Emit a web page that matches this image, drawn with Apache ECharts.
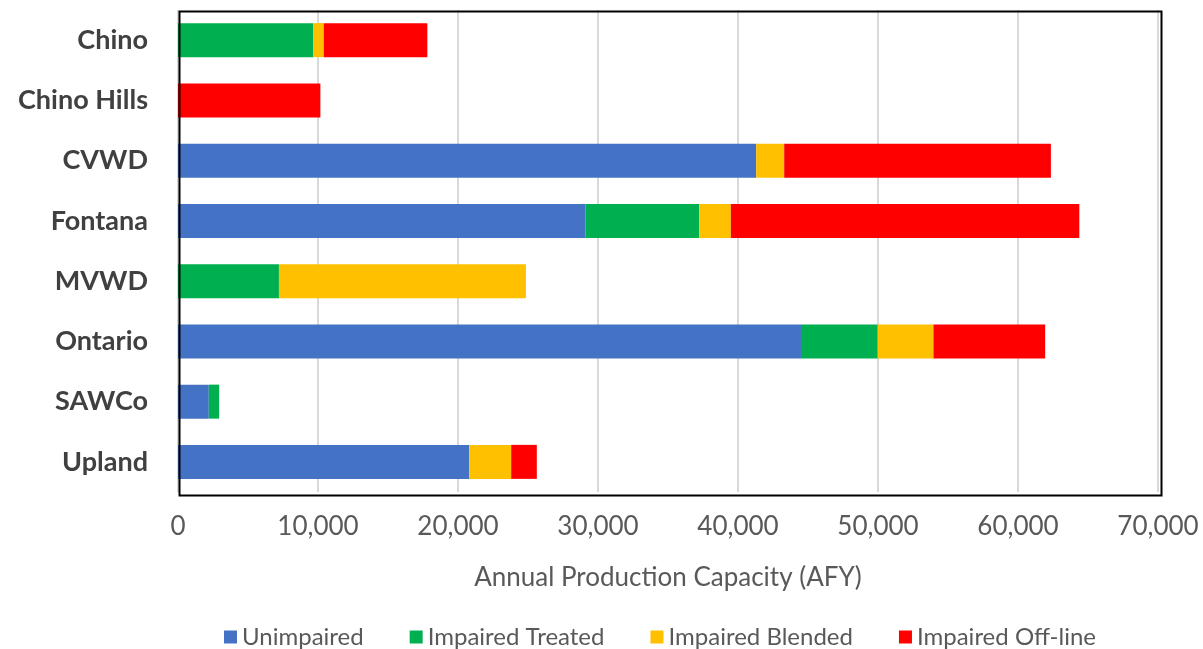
<!DOCTYPE html>
<html>
<head>
<meta charset="utf-8">
<script src="https://cdn.jsdelivr.net/npm/echarts@6/dist/echarts.min.js"></script>
<style>
  html, body { margin: 0; padding: 0; background: #fff; }
  #chart { width: 1203px; height: 649px; }
</style>
</head>
<body>
<div id="chart"></div>
<script>
// agencies, top to bottom
const agencies = ['Chino', 'Chino Hills', 'CVWD', 'Fontana', 'MVWD', 'Ontario', 'SAWCo', 'Upland'];

// AFY per category
const unimpaired      = [0,    0,     41300, 29100, 0,     44500, 2200, 20800];
const impairedTreated = [9670, 0,     0,     8130,  7210,  5480,  740,  0];
const impairedBlended = [740,  0,     2000,  2260,  17640, 3980,  0,    3000];
const impairedOffline = [7400, 10170, 19050, 24890, 0,     7980,  0,    1830];

const xTicks = {min: 0, max: 70000, interval: 10000};

const font = 'Lato, "Open Sans", sans-serif';

// plot box, in px
const box = {left: 178, top: 10, width: 980, height: 482};

const mkSeries = (name, data, color) => ({
    name,
    type: 'bar',
    stack: 'total',
    data,
    barWidth: 34,
    itemStyle: {color},
    emphasis: {disabled: true}
});

const chart = echarts.init(document.getElementById('chart'));

chart.setOption({
    animation: false,
    grid: {
        left: box.left, top: box.top, width: box.width, height: box.height,
        containLabel: false
    },
    graphic: [{
        type: 'rect',
        left: box.left - 1, top: box.top - 1, z: 100,
        shape: {width: box.width + 2, height: box.height + 2},
        style: {fill: null, stroke: '#000', lineWidth: 2}
    }],
    legend: {
        top: 620,
        left: 219,
        itemWidth: 13,
        itemHeight: 13,
        itemGap: 46,
        icon: 'rect',
        textStyle: {fontFamily: font, fontSize: 24, color: '#595959'},
        data: ['Unimpaired', 'Impaired Treated', 'Impaired Blended', 'Impaired Off-line']
    },
    xAxis: {
        type: 'value',
        min: xTicks.min,
        max: xTicks.max,
        interval: xTicks.interval,
        name: 'Annual Production Capacity (AFY)',
        nameLocation: 'middle',
        nameGap: 73,
        nameTextStyle: {fontFamily: font, fontSize: 26, color: '#595959'},
        axisLine: {show: false},
        axisTick: {show: false},
        axisLabel: {
            fontFamily: font, fontSize: 26, color: '#595959', margin: 22,
            formatter: v => v.toLocaleString('en-US')
        },
        splitLine: {lineStyle: {color: '#d9d9d9', width: 2}}
    },
    yAxis: {
        type: 'category',
        inverse: true,
        data: agencies,
        axisLine: {show: false},
        axisTick: {show: false},
        axisLabel: {
            fontFamily: font, fontSize: 27, fontWeight: 'bold', color: '#404040', margin: 30
        }
    },
    series: [
        mkSeries('Unimpaired', unimpaired, '#4472c4'),
        mkSeries('Impaired Treated', impairedTreated, '#00b050'),
        mkSeries('Impaired Blended', impairedBlended, '#ffc000'),
        mkSeries('Impaired Off-line', impairedOffline, '#ff0000')
    ]
});
</script>
</body>
</html>
